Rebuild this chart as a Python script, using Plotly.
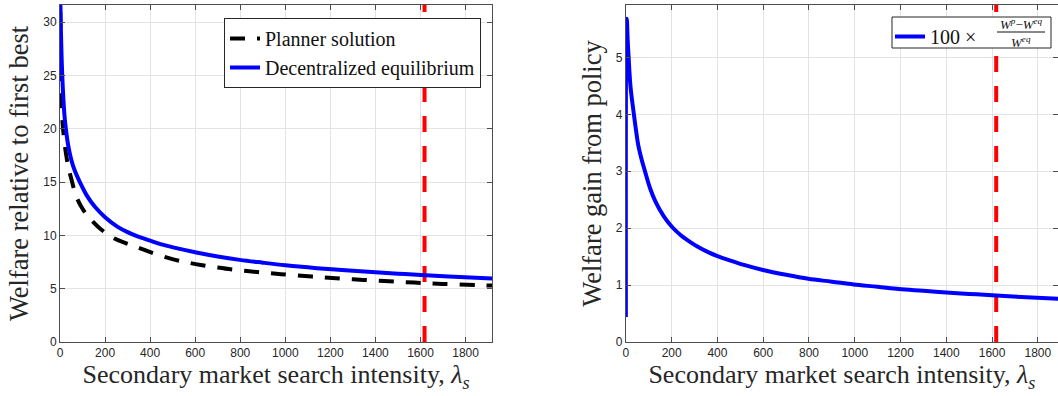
import plotly.graph_objects as go
from plotly.subplots import make_subplots

# ---- data ----
lam_dec = [0.5, 2, 4.4, 7, 10, 15, 20, 26, 35, 50, 65, 88, 120, 154, 200, 256, 300, 344, 400,
           450, 507, 600, 700, 798, 900, 1000, 1100, 1190, 1300, 1400, 1500, 1602, 1750, 1918]
w_dec = [36, 31.5, 28.9, 26.8, 25, 22.8, 21.2, 20, 18.6, 17.1, 16.1, 15, 13.7, 12.7, 11.7, 10.8, 10.3, 9.9, 9.5,
         9.15, 8.85, 8.42, 8.02, 7.7, 7.44, 7.2, 7.0, 6.84, 6.68, 6.54, 6.41, 6.28, 6.12, 5.96]

lam_plan = [0.5, 2, 4, 7, 12, 19, 27, 37, 50, 73, 100, 132, 180, 242, 300, 353, 410, 495, 560, 625,
            700, 763, 830, 895, 960, 1028, 1160, 1300, 1440, 1573, 1700, 1852, 1918]
w_plan = [36, 28, 24.5, 22.2, 20.4, 18.9, 17.6, 16.4, 15.3, 13.6, 12.5, 11.6, 10.6, 9.7, 9.2, 8.8, 8.35, 7.8, 7.48, 7.22,
          6.98, 6.8, 6.65, 6.52, 6.4, 6.28, 6.07, 5.88, 5.72, 5.57, 5.45, 5.33, 5.29]

lam_gain = [0, 2, 4, 8, 12, 20, 34, 45, 55, 68, 82, 105, 130, 165, 202, 240, 280, 320, 364, 400, 450,
            520, 599, 700, 797, 900, 995, 1100, 1193, 1300, 1400, 1500, 1600, 1750, 1890]
gain = [0.44, 5.5, 5.68, 5.3, 5.0, 4.5, 4.03, 3.7, 3.44, 3.22, 3.02, 2.71, 2.46, 2.21, 2.02, 1.876, 1.76, 1.66, 1.57, 1.51, 1.44,
        1.35, 1.265, 1.18, 1.11, 1.06, 1.01, 0.97, 0.93, 0.90, 0.87, 0.845, 0.82, 0.787, 0.76]

lam_cal = 1618  # calibrated secondary market search intensity (red marker)

x_ticks = [0, 200, 400, 600, 800, 1000, 1200, 1400, 1600, 1800]
y1_ticks = [0, 5, 10, 15, 20, 25, 30]
y2_ticks = [0, 1, 2, 3, 4, 5]
x1_max, x2_max = 1918, 1888
y1_max, y2_max = 31.6, 5.92

SERIF = "Liberation Serif"
SANS = "Liberation Sans"
AX = "#4d4d4d"
GRID = "#e3e3e3"
TXT = "#262626"

W_PX, L_M, T_M, PH = 998, 60, 5, 337


def px_x(p):
    return (p - L_M) / W_PX


def px_y(p):
    return 1 - (p - T_M) / PH


fig = make_subplots(rows=1, cols=2, horizontal_spacing=0.134)

fig.add_trace(go.Scatter(x=[lam_cal, lam_cal], y=[0, y1_max], mode="lines",
                         line=dict(color="#ff0000", width=4, dash="16px,14px"),
                         showlegend=False, hoverinfo="skip"), row=1, col=1)
fig.add_trace(go.Scatter(x=lam_plan, y=w_plan, mode="lines", name="Planner solution",
                         line=dict(color="black", width=4, dash="15px,12px", shape="spline", smoothing=1),
                         legend="legend"), row=1, col=1)
fig.add_trace(go.Scatter(x=lam_dec, y=w_dec, mode="lines", name="Decentralized equilibrium",
                         line=dict(color="#0000ff", width=4, shape="spline", smoothing=1),
                         legend="legend"), row=1, col=1)

fig.add_trace(go.Scatter(x=[lam_cal, lam_cal], y=[0, y2_max], mode="lines",
                         line=dict(color="#ff0000", width=4, dash="16px,14px"),
                         showlegend=False, hoverinfo="skip"), row=1, col=2)
fig.add_trace(go.Scatter(x=lam_gain, y=gain, mode="lines",
                         name="100 \u00d7",
                         line=dict(color="#0000ff", width=4, shape="spline", smoothing=1),
                         legend="legend2"), row=1, col=2)

axis_common = dict(showline=True, linecolor=AX, linewidth=1, mirror="ticks",
                   ticks="inside", ticklen=5, tickcolor=AX,
                   showgrid=True, gridcolor=GRID, gridwidth=1, zeroline=False,
                   tickfont=dict(family=SANS, size=12, color=TXT))

xtitle = dict(text="Secondary market search intensity, <i>λ<sub>s</sub></i>",
              font=dict(family=SERIF, size=26, color=TXT), standoff=2)

fig.update_xaxes(range=[0, x1_max], tickvals=x_ticks, title=xtitle, **axis_common, row=1, col=1)
fig.update_xaxes(range=[0, x2_max], tickvals=x_ticks, title=xtitle, **axis_common, row=1, col=2)
fig.update_yaxes(range=[0, y1_max], tickvals=y1_ticks, **axis_common, row=1, col=1,
                 title=dict(text="Welfare relative to first best",
                            font=dict(family=SERIF, size=26.5, color=TXT), standoff=6))
fig.update_yaxes(range=[0, y2_max], tickvals=y2_ticks, **axis_common, row=1, col=2,
                 title=dict(text="Welfare gain from policy",
                            font=dict(family=SERIF, size=26.5, color=TXT), standoff=6))

fig.update_layout(
    width=1058, height=396,
    margin=dict(l=L_M, r=0, t=T_M, b=54),
    paper_bgcolor="white", plot_bgcolor="white",
    legend=dict(x=px_x(481), y=px_y(18), xanchor="right", yanchor="top",
                bgcolor="white", bordercolor=TXT, borderwidth=1,
                font=dict(family=SERIF, size=20, color="#111"), itemwidth=30,
                tracegroupgap=0),
    legend2=dict(x=px_x(890), y=px_y(17), xanchor="left", yanchor="top",
                 bgcolor="rgba(0,0,0,0)", borderwidth=0,
                 font=dict(family=SERIF, size=20, color="#111"), itemwidth=30),
)

# box of the right-hand legend, with the fraction of its label
fig.add_shape(type="rect", xref="paper", yref="paper", layer="above",
              x0=px_x(892), x1=px_x(1051), y0=px_y(48), y1=px_y(17),
              fillcolor="white", line=dict(color=TXT, width=1))
fx = px_x(1021)
fig.add_annotation(xref="paper", yref="paper", x=fx, y=px_y(24), yshift=0,
                   text="<i>W<sup>p</sup></i>\u2212<i>W<sup>eq</sup></i>", showarrow=False,
                   font=dict(family=SERIF, size=13, color="#111"), xanchor="center", yanchor="middle")
fig.add_annotation(xref="paper", yref="paper", x=fx, y=px_y(42),
                   text="<i>W<sup>eq</sup></i>", showarrow=False,
                   font=dict(family=SERIF, size=13, color="#111"), xanchor="center", yanchor="middle")
fig.add_shape(type="line", xref="paper", yref="paper", layer="above",
              x0=px_x(997), x1=px_x(1045), y0=px_y(32), y1=px_y(32),
              line=dict(color="#111", width=1))

fig.write_html("out.html")
